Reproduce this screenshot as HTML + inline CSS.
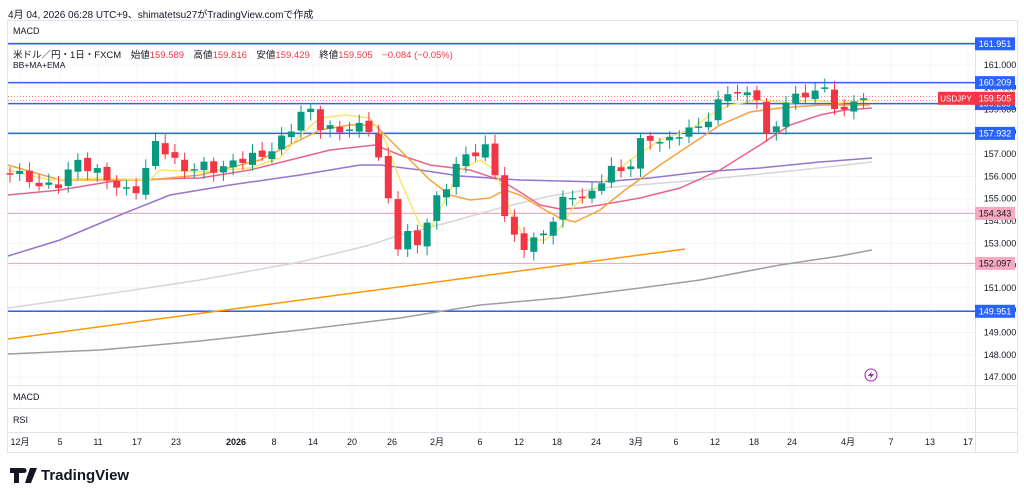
<!DOCTYPE html>
<html><head><meta charset="utf-8"><style>
body{margin:0;width:1024px;height:495px;background:#fff;font-family:"Liberation Sans","Noto Sans CJK JP",sans-serif;overflow:hidden;position:relative}
.t{position:absolute;font-size:9px;color:#131722;white-space:nowrap}
</style></head><body>
<div class="t" style="left:8px;top:6px;font-size:10px">4月 04, 2026 06:28 UTC+9、shimatetsu27がTradingView.comで作成</div>
<svg id="s" width="1024" height="495" style="position:absolute;left:0;top:0"></svg>
<script>
const s=document.getElementById('s');let h='';
const Y=p=>65+(161-p)*22.29;
h+='<rect x="7.5" y="20.5" width="1010" height="432" fill="none" stroke="#e0e3eb"/>';
h+='<line x1="8" y1="42.5" x2="1017" y2="42.5" stroke="#e0e3eb"/>';
[385.5,408.5,432.5].forEach(y=>h+=`<line x1="8" y1="${y}" x2="1017" y2="${y}" stroke="#e0e3eb"/>`);
h+='<line x1="975.5" y1="42" x2="975.5" y2="452" stroke="#e0e3eb"/>';
const xl=[[20,'12月'],[60,'5'],[98,'11'],[137,'17'],[176,'23'],[236,'2026'],[274,'8'],[313,'14'],[352,'20'],[392,'26'],[437,'2月'],[480,'6'],[519,'12'],[557,'18'],[596,'24'],[636,'3月'],[676,'6'],[715,'12'],[754,'18'],[792,'24'],[848,'4月'],[891,'7'],[930,'13'],[968,'17']];
xl.forEach(([x,t])=>{h+=`<line x1="${x}" y1="43" x2="${x}" y2="432" stroke="#f3f4f6"/>`;h+=`<text x="${x}" y="445" font-size="9" text-anchor="middle" fill="#131722" ${t=='2026'?'font-weight="bold"':''}>${t}</text>`});
for(let p=147;p<=161;p++){const y=Y(p);h+=`<line x1="8" y1="${y}" x2="975" y2="${y}" stroke="#f3f4f6"/>`;h+=`<text x="1000" y="${y+3}" font-size="9" text-anchor="middle" fill="#131722">${p}.000</text>`}
[[161.951,'#2962ff'],[160.209,'#2962ff'],[159.269,'#2962ff'],[157.932,'#2962ff'],[154.343,'#f7a9c0'],[152.097,'#f7a9c0'],[149.951,'#2962ff']].forEach(([p,c])=>{const y=Y(p);h+=`<line x1="8" y1="${y}" x2="975" y2="${y}" stroke="${c}" stroke-width="${c=='#2962ff'?1.5:1.2}"/>`;h+=`<rect x="975" y="${y-6.5}" width="40" height="13" fill="${c=='#2962ff'?'#2962ff':'#f7a9c0'}"/><text x="995" y="${y+3}" font-size="9" text-anchor="middle" fill="${c=='#2962ff'?'#fff':'#131722'}">${p.toFixed(3)}</text>`});
h+=`<line x1="8" y1="${Y(159.505)-2}" x2="975" y2="${Y(159.505)-2}" stroke="#f23645" stroke-dasharray="1,2" stroke-width=".6"/><line x1="8" y1="${Y(159.505)+2}" x2="975" y2="${Y(159.505)+2}" stroke="#f23645" stroke-dasharray="1,2" stroke-width=".6"/>`;
const pl=(pts,c,w)=>h+=`<polyline fill="none" stroke="${c}" stroke-width="${w}" points="${pts.map(p=>p.join(',')).join(' ')}"/>`;
pl([[8,354],[100,350],[200,341],[300,330],[400,318],[480,305],[560,298],[640,288],[700,280],[780,265],[840,256],[872,250]],'#9e9e9e',1.5);
pl([[8,339],[685,249]],'#ff9800',1.5);
pl([[8,308],[100,295],[200,280],[300,262],[370,245],[400,235],[450,222],[500,208],[550,196],[600,188],[700,180],[800,170],[872,162]],'#d6d6d6',1.5);
pl([[8,256],[60,240],[120,215],[170,195],[230,185],[300,175],[360,165],[380,165],[420,170],[460,176],[520,180],[560,181],[600,182],[650,178],[700,172],[760,168],[820,162],[872,158]],'#9575cd',1.5);
pl([[8,195],[60,190],[120,180],[200,178],[250,170],[290,160],[330,150],[375,145],[400,155],[430,165],[470,170],[500,180],[520,192],[540,205],[560,209],[580,208],[600,205],[640,198],[680,188],[720,170],[760,145],[790,125],[820,115],[845,110],[872,108]],'#e9638e',1.5);
pl([[8,165],[60,180],[150,180],[200,175],[260,160],[290,145],[320,130],[350,125],[375,125],[400,150],[430,180],[450,195],[470,200],[490,198],[505,190],[520,195],[545,210],[560,218],[575,222],[600,210],[625,190],[660,165],[690,145],[720,125],[750,112],[780,108],[820,105],[870,105]],'#f7a23b',1.5);
pl([[8,170],[50,180],[100,178],[150,180],[160,170],[200,172],[250,168],[280,158],[300,135],[320,118],[345,115],[370,118],[385,140],[400,180],[420,225],[430,230],[445,200],[460,170],[480,160],[495,170],[510,210],[525,240],[545,240],[560,228],[575,205],[600,185],[630,160],[660,140],[690,130],[710,115],[730,105],[760,100],[790,103],[810,100],[840,103],[870,100]],'#fbe46b',1.5);
const kp=[[10,156.3],[30,155.8],[50,155.5],[60,155.7],[75,156.7],[90,156.4],[110,155.8],[130,155.2],[140,155.6],[158,157.8],[170,156.8],[185,156.3],[200,156.5],[220,156.3],[240,156.8],[260,156.9],[275,157.3],[285,157.8],[300,158.8],[310,159.0],[320,158.3],[335,158.0],[350,158.2],[370,158.2],[382,156.2],[392,154.2],[400,152.5],[410,153.6],[420,152.8],[430,154.5],[445,155.5],[460,156.8],[475,157.1],[490,157.3],[500,155.0],[510,153.5],[520,152.8],[535,153.2],[545,153.4],[560,154.8],[575,155.2],[590,155.0],[600,155.8],[610,156.4],[625,156.1],[640,157.5],[655,157.8],[665,157.4],[680,158.0],[700,158.2],[715,159.0],[725,159.8],[740,159.8],[750,159.5],[760,159.7],[765,157.8],[775,158.0],[785,159.5],[800,159.5],[810,159.8],[820,160.0],[830,159.6],[840,158.8],[850,159.0],[860,159.8],[870,159.5]];
const f=x=>{for(let i=1;i<kp.length;i++)if(x<=kp[i][0]){const[a,b]=[kp[i-1],kp[i]];return a[1]+(b[1]-a[1])*(x-a[0])/(b[0]-a[0])}return kp[kp.length-1][1]};
let prev=156.2;
for(let x=10;x<=871;x+=9.7){let c=f(x);const o=prev+Math.cos(x*2.3)*0.1;c+=Math.sin(x*1.7)*0.22;const hi=Math.max(o,c)+0.15+Math.abs(Math.sin(x))*0.25,lo=Math.min(o,c)-0.15-Math.abs(Math.cos(x))*0.25;const col=c>=o?'#089981':'#f23645';const yt=Y(Math.max(o,c)),yb=Math.max(Y(Math.min(o,c)),yt+1.5);
h+=`<line x1="${x}" y1="${Y(hi)}" x2="${x}" y2="${Y(lo)}" stroke="${col}"/><rect x="${x-3.5}" y="${yt}" width="7" height="${yb-yt}" fill="${col}"/>`;prev=c;}
const yp=Y(159.505);
h+=`<rect x="938" y="${yp-6.5}" width="37" height="13" fill="#f23645"/><text x="956" y="${yp+3}" font-size="8" fill="#fff" text-anchor="middle">USDJPY</text><rect x="975" y="${yp-6.5}" width="40" height="13" fill="#f23645"/><text x="995" y="${yp+3}" font-size="9" fill="#fff" text-anchor="middle">159.505</text>`;
h+='<circle cx="871" cy="375" r="6" fill="none" stroke="#9c27b0"/><path d="M872 371 L868 376 L871 376 L870 379 L874 374 L871 374 Z" fill="#9c27b0"/>';
h+='<path d="M10 468 h13 v5 h-4 v10 h-5 v-10 h-4 Z M24 473 a2.5 2.5 0 1 1 0.1 0 Z M30 468 h7 l-6 15 h-6 Z" fill="#131722"/>';
h+='<text x="41" y="480" font-size="15" font-weight="bold" fill="#131722">TradingView</text>';
s.innerHTML=h;
</script>
<div class="t" style="left:13px;top:26px;font-size:9px">MACD</div>
<div class="t" style="left:13px;top:47px;font-size:9.5px">米ドル／円・1日・FXCM　始値<span style="color:#f23645">159.589</span>　高値<span style="color:#f23645">159.816</span>　安値<span style="color:#f23645">159.429</span>　終値<span style="color:#f23645">159.505</span>　<span style="color:#f23645">−0.084 (−0.05%)</span></div>
<div class="t" style="left:13px;top:60px;font-size:8.5px">BB+MA+EMA</div>
<div class="t" style="left:13px;top:392px">MACD</div>
<div class="t" style="left:13px;top:415px">RSI</div>
</body></html>
